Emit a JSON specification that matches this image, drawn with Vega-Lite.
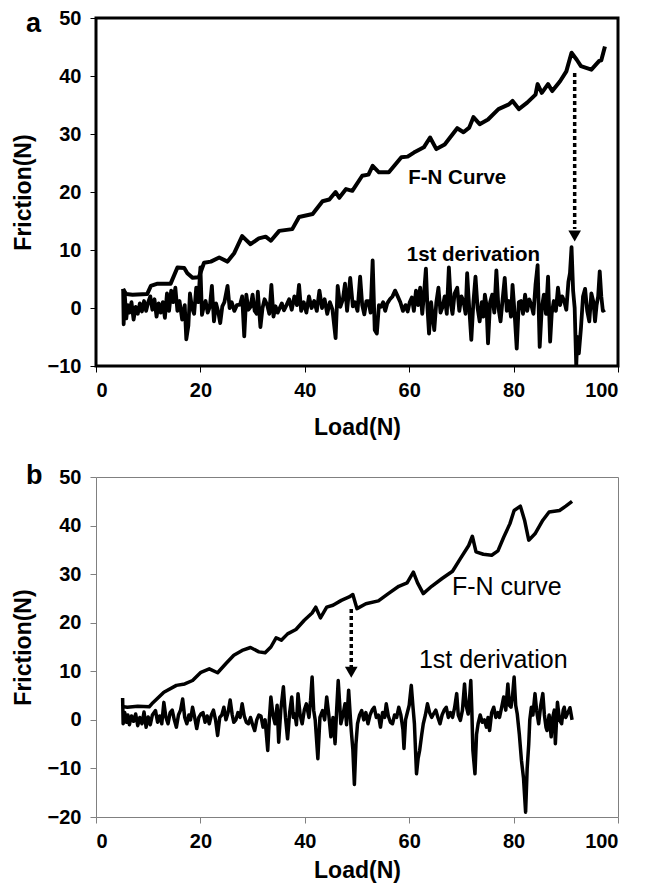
{
  "$schema": "https://vega.github.io/schema/vega-lite/v6.json",
  "background": "white",
  "padding": {"left": 10, "top": 6, "right": 5, "bottom": 5},
  "bounds": "flush",
  "spacing": 111,
  "config": {
    "font": "Liberation Sans",
    "axis": {
      "labelFont": "Liberation Sans", "labelFontSize": 20, "labelFontWeight": "bold", "labelColor": "#000",
      "titleFont": "Liberation Sans", "titleFontSize": 23, "titleFontWeight": "bold", "titleColor": "#000",
      "grid": false, "domain": false, "tickSize": 6, "tickColor": "#000", "tickWidth": 1
    },
    "axisX": {"labelPadding": 8, "titlePadding": 8},
    "axisY": {"labelPadding": 9, "titlePadding": 12},
    "title": {"font": "Liberation Sans", "fontSize": 27, "fontWeight": "bold", "color": "#000"}
  },
  "datasets": {
    "a_curve": [
      {"load": 5.2, "friction": 3.3}, {"load": 5.5, "friction": 2.8}, {"load": 5.8, "friction": 2.4}, {"load": 7.0, "friction": 2.3}, {"load": 9.8, "friction": 2.4},
      {"load": 10.5, "friction": 3.8}, {"load": 11.8, "friction": 4.2}, {"load": 14.3, "friction": 4.2}, {"load": 15.6, "friction": 7.0}, {"load": 16.9, "friction": 6.9},
      {"load": 17.5, "friction": 6.0}, {"load": 18.5, "friction": 5.2}, {"load": 19.7, "friction": 5.3}, {"load": 20.7, "friction": 7.8}, {"load": 22.0, "friction": 8.0},
      {"load": 23.6, "friction": 8.7}, {"load": 25.2, "friction": 8.0}, {"load": 26.5, "friction": 9.5}, {"load": 28.0, "friction": 12.4}, {"load": 29.6, "friction": 11.0},
      {"load": 31.2, "friction": 12.0}, {"load": 32.5, "friction": 12.3}, {"load": 33.5, "friction": 11.6}, {"load": 35.1, "friction": 13.3}, {"load": 37.6, "friction": 13.6},
      {"load": 38.9, "friction": 15.7}, {"load": 41.5, "friction": 16.2}, {"load": 43.4, "friction": 18.4}, {"load": 44.7, "friction": 18.7}, {"load": 45.9, "friction": 20.0},
      {"load": 46.6, "friction": 19.0}, {"load": 47.9, "friction": 20.5}, {"load": 49.1, "friction": 20.2}, {"load": 51.0, "friction": 22.8}, {"load": 52.2, "friction": 23.0},
      {"load": 53.0, "friction": 24.5}, {"load": 54.2, "friction": 23.4}, {"load": 56.1, "friction": 23.4}, {"load": 58.5, "friction": 26.0}, {"load": 59.7, "friction": 26.1},
      {"load": 60.9, "friction": 26.8}, {"load": 62.8, "friction": 27.7}, {"load": 64.0, "friction": 29.4}, {"load": 65.2, "friction": 27.4}, {"load": 66.8, "friction": 28.2},
      {"load": 69.2, "friction": 31.0}, {"load": 70.4, "friction": 30.3}, {"load": 71.5, "friction": 31.1}, {"load": 72.3, "friction": 32.9}, {"load": 73.5, "friction": 31.7},
      {"load": 75.1, "friction": 32.5}, {"load": 77.1, "friction": 34.3}, {"load": 79.1, "friction": 35.1}, {"load": 79.8, "friction": 35.7}, {"load": 81.0, "friction": 34.3},
      {"load": 82.6, "friction": 35.4}, {"load": 84.2, "friction": 36.8}, {"load": 84.6, "friction": 38.6}, {"load": 85.4, "friction": 37.1}, {"load": 86.6, "friction": 38.6},
      {"load": 87.4, "friction": 37.4}, {"load": 88.9, "friction": 39.1}, {"load": 90.1, "friction": 40.8}, {"load": 91.1, "friction": 44.0}, {"load": 92.1, "friction": 42.8},
      {"load": 92.9, "friction": 41.7}, {"load": 94.9, "friction": 41.1}, {"load": 96.4, "friction": 42.6}, {"load": 96.8, "friction": 42.7}, {"load": 97.5, "friction": 45.1}
    ],
    "a_deriv": [
      {"load": 5.2, "friction": 3.3}, {"load": 5.3, "friction": -2.8}, {"load": 5.5, "friction": 2.5}, {"load": 5.8, "friction": -1.8}, {"load": 6.1, "friction": 0.5},
      {"load": 6.4, "friction": -0.8}, {"load": 6.8, "friction": 1.0}, {"load": 7.2, "friction": -2.0}, {"load": 7.6, "friction": 0.2}, {"load": 8.0, "friction": -1.0},
      {"load": 8.4, "friction": 0.8}, {"load": 8.8, "friction": -0.6}, {"load": 9.2, "friction": 1.2}, {"load": 9.6, "friction": -0.5}, {"load": 10.0, "friction": 1.0},
      {"load": 10.4, "friction": 2.0}, {"load": 10.8, "friction": -0.3}, {"load": 11.2, "friction": 1.5}, {"load": 11.6, "friction": -1.5}, {"load": 12.0, "friction": 0.8},
      {"load": 12.4, "friction": -0.8}, {"load": 12.8, "friction": 1.0}, {"load": 13.2, "friction": -1.7}, {"load": 13.6, "friction": 2.5}, {"load": 14.0, "friction": -0.5},
      {"load": 14.4, "friction": 3.0}, {"load": 14.8, "friction": 1.0}, {"load": 15.2, "friction": 3.5}, {"load": 15.6, "friction": -0.5}, {"load": 16.0, "friction": 1.2},
      {"load": 16.5, "friction": -2.0}, {"load": 17.0, "friction": 0.5}, {"load": 17.3, "friction": -5.4}, {"load": 17.7, "friction": -3.0}, {"load": 18.0, "friction": 2.5},
      {"load": 18.4, "friction": 0.0}, {"load": 18.8, "friction": -1.0}, {"load": 19.2, "friction": 3.5}, {"load": 19.6, "friction": 1.0}, {"load": 20.0, "friction": 7.0},
      {"load": 20.3, "friction": -1.2}, {"load": 20.7, "friction": 0.5}, {"load": 21.0, "friction": 1.2}, {"load": 21.4, "friction": -0.8}, {"load": 21.8, "friction": 0.2},
      {"load": 22.2, "friction": 3.8}, {"load": 22.6, "friction": -2.3}, {"load": 23.0, "friction": 0.8}, {"load": 23.4, "friction": -0.6}, {"load": 23.8, "friction": -2.6},
      {"load": 24.2, "friction": 0.3}, {"load": 24.6, "friction": 1.0}, {"load": 25.2, "friction": 3.8}, {"load": 25.6, "friction": 0.0}, {"load": 26.0, "friction": 1.0},
      {"load": 26.5, "friction": -0.5}, {"load": 27.0, "friction": 0.5}, {"load": 27.6, "friction": 0.6}, {"load": 28.0, "friction": 2.0}, {"load": 28.4, "friction": -4.9},
      {"load": 28.8, "friction": 2.3}, {"load": 29.2, "friction": -0.3}, {"load": 29.6, "friction": 0.2}, {"load": 30.0, "friction": 2.3}, {"load": 30.4, "friction": -0.5},
      {"load": 30.8, "friction": -1.0}, {"load": 31.0, "friction": 2.8}, {"load": 31.5, "friction": -3.3}, {"load": 31.9, "friction": 0.0}, {"load": 32.3, "friction": 1.5},
      {"load": 32.8, "friction": 0.5}, {"load": 33.2, "friction": -1.0}, {"load": 33.6, "friction": 4.0}, {"load": 34.0, "friction": -1.5}, {"load": 34.4, "friction": 0.3},
      {"load": 34.8, "friction": -0.8}, {"load": 35.2, "friction": 0.0}, {"load": 35.6, "friction": 0.8}, {"load": 36.0, "friction": -0.4}, {"load": 36.5, "friction": 0.5},
      {"load": 37.0, "friction": 1.5}, {"load": 37.5, "friction": -0.3}, {"load": 38.0, "friction": 2.0}, {"load": 38.5, "friction": 0.5}, {"load": 38.9, "friction": 4.0},
      {"load": 39.3, "friction": -0.5}, {"load": 39.8, "friction": 1.0}, {"load": 40.3, "friction": -0.8}, {"load": 40.8, "friction": 2.0}, {"load": 41.3, "friction": 0.0},
      {"load": 41.8, "friction": 1.2}, {"load": 42.3, "friction": -0.5}, {"load": 42.8, "friction": 3.0}, {"load": 43.3, "friction": 0.0}, {"load": 43.8, "friction": 1.5},
      {"load": 44.3, "friction": -1.0}, {"load": 44.8, "friction": 1.0}, {"load": 45.3, "friction": -0.3}, {"load": 45.9, "friction": -5.2}, {"load": 46.3, "friction": 3.8},
      {"load": 46.8, "friction": 0.2}, {"load": 47.3, "friction": 1.5}, {"load": 47.7, "friction": 4.2}, {"load": 48.1, "friction": -0.5}, {"load": 48.7, "friction": 5.2},
      {"load": 49.2, "friction": 0.3}, {"load": 49.6, "friction": 1.0}, {"load": 50.1, "friction": -0.5}, {"load": 50.6, "friction": 5.4}, {"load": 51.0, "friction": 0.5},
      {"load": 51.4, "friction": -1.1}, {"load": 51.8, "friction": 1.2}, {"load": 52.2, "friction": 1.2}, {"load": 52.6, "friction": -0.8}, {"load": 53.0, "friction": 8.2},
      {"load": 53.4, "friction": -3.8}, {"load": 53.8, "friction": -4.4}, {"load": 54.2, "friction": 0.5}, {"load": 54.6, "friction": 0.2}, {"load": 55.0, "friction": 1.0},
      {"load": 55.4, "friction": -0.5}, {"load": 55.8, "friction": 0.8}, {"load": 56.3, "friction": 1.5}, {"load": 56.8, "friction": 2.0}, {"load": 57.3, "friction": 3.0},
      {"load": 57.8, "friction": 2.0}, {"load": 58.3, "friction": 1.0}, {"load": 58.8, "friction": -0.5}, {"load": 59.3, "friction": 0.5}, {"load": 59.7, "friction": -0.6},
      {"load": 60.1, "friction": 1.0}, {"load": 60.5, "friction": 1.8}, {"load": 60.9, "friction": -0.5}, {"load": 61.3, "friction": 3.0}, {"load": 61.7, "friction": 0.5},
      {"load": 62.1, "friction": 3.5}, {"load": 62.5, "friction": -1.0}, {"load": 62.8, "friction": 2.0}, {"load": 63.2, "friction": 6.8}, {"load": 63.5, "friction": 0.0},
      {"load": 63.8, "friction": -4.4}, {"load": 64.2, "friction": 1.0}, {"load": 64.5, "friction": -1.5}, {"load": 64.8, "friction": -3.8}, {"load": 65.2, "friction": 1.0},
      {"load": 65.6, "friction": 3.5}, {"load": 66.0, "friction": -0.8}, {"load": 66.4, "friction": 0.2}, {"load": 66.8, "friction": 2.0}, {"load": 67.2, "friction": -1.0},
      {"load": 67.6, "friction": 7.0}, {"load": 68.0, "friction": 0.5}, {"load": 68.3, "friction": -1.0}, {"load": 68.7, "friction": 2.5}, {"load": 69.2, "friction": 3.5},
      {"load": 69.6, "friction": -0.5}, {"load": 70.0, "friction": 2.0}, {"load": 70.4, "friction": 1.2}, {"load": 70.8, "friction": -1.0}, {"load": 71.1, "friction": 6.0},
      {"load": 71.5, "friction": 0.0}, {"load": 71.9, "friction": -5.5}, {"load": 72.3, "friction": 1.0}, {"load": 72.7, "friction": 5.4}, {"load": 73.1, "friction": 0.0},
      {"load": 73.5, "friction": -2.3}, {"load": 73.9, "friction": 1.0}, {"load": 74.2, "friction": -1.5}, {"load": 74.5, "friction": 2.3}, {"load": 74.8, "friction": 0.5},
      {"load": 75.1, "friction": -6.1}, {"load": 75.5, "friction": 1.0}, {"load": 75.9, "friction": 2.3}, {"load": 76.3, "friction": -0.8}, {"load": 76.7, "friction": 6.5},
      {"load": 77.1, "friction": 0.0}, {"load": 77.5, "friction": -2.3}, {"load": 77.9, "friction": 1.5}, {"load": 78.3, "friction": 5.2}, {"load": 78.7, "friction": -0.5},
      {"load": 79.1, "friction": 1.2}, {"load": 79.5, "friction": -1.5}, {"load": 79.8, "friction": 4.0}, {"load": 80.2, "friction": -1.0}, {"load": 80.6, "friction": -7.0},
      {"load": 81.0, "friction": 1.0}, {"load": 81.4, "friction": 1.2}, {"load": 81.8, "friction": -1.0}, {"load": 82.2, "friction": 2.3}, {"load": 82.6, "friction": -0.5},
      {"load": 83.0, "friction": 1.5}, {"load": 83.4, "friction": 0.5}, {"load": 83.8, "friction": -1.0}, {"load": 84.2, "friction": 4.0}, {"load": 84.6, "friction": 7.4},
      {"load": 85.0, "friction": -6.7}, {"load": 85.4, "friction": 0.0}, {"load": 85.8, "friction": 2.3}, {"load": 86.2, "friction": -1.0}, {"load": 86.6, "friction": 5.4},
      {"load": 87.0, "friction": -5.8}, {"load": 87.3, "friction": -1.0}, {"load": 87.7, "friction": 1.2}, {"load": 88.1, "friction": -0.5}, {"load": 88.5, "friction": 3.5},
      {"load": 88.9, "friction": 0.5}, {"load": 89.3, "friction": 2.0}, {"load": 89.7, "friction": 1.2}, {"load": 90.1, "friction": -0.3}, {"load": 90.5, "friction": 4.5},
      {"load": 90.8, "friction": 6.0}, {"load": 91.1, "friction": 10.5}, {"load": 91.4, "friction": 3.0}, {"load": 91.7, "friction": 0.0}, {"load": 92.0, "friction": -10.0},
      {"load": 92.2, "friction": -5.0}, {"load": 92.5, "friction": -7.8}, {"load": 92.9, "friction": -3.5}, {"load": 93.3, "friction": 2.0}, {"load": 93.7, "friction": 3.3},
      {"load": 94.1, "friction": -0.5}, {"load": 94.5, "friction": -2.3}, {"load": 94.9, "friction": 2.5}, {"load": 95.3, "friction": 1.0}, {"load": 95.6, "friction": -2.3},
      {"load": 95.9, "friction": 0.5}, {"load": 96.2, "friction": 2.0}, {"load": 96.5, "friction": 6.3}, {"load": 96.8, "friction": 2.0}, {"load": 97.1, "friction": -0.5},
      {"load": 97.5, "friction": -0.3}
    ],
    "a_arrow": [{"load": 91.7, "friction": 40.5, "friction2": 13.6}],
    "a_head": [{"load": 91.7, "friction": 12.4}],
    "a_text": [
      {"load": 69.2, "friction": 22.5, "label": "F-N Curve"},
      {"load": 72.3, "friction": 9.2, "label": "1st derivation"}
    ],
    "b_curve": [
      {"load": 5.3, "friction": 2.7}, {"load": 6.0, "friction": 2.6}, {"load": 8.0, "friction": 2.8}, {"load": 10.2, "friction": 2.7}, {"load": 10.7, "friction": 3.3},
      {"load": 13.0, "friction": 5.7}, {"load": 15.4, "friction": 7.1}, {"load": 17.0, "friction": 7.4}, {"load": 18.5, "friction": 8.1}, {"load": 20.1, "friction": 9.8},
      {"load": 21.7, "friction": 10.5}, {"load": 23.3, "friction": 9.7}, {"load": 24.9, "friction": 11.6}, {"load": 26.4, "friction": 13.3}, {"load": 28.0, "friction": 14.3},
      {"load": 29.6, "friction": 14.9}, {"load": 31.2, "friction": 14.0}, {"load": 32.4, "friction": 13.8}, {"load": 33.5, "friction": 15.0}, {"load": 34.5, "friction": 16.9},
      {"load": 35.5, "friction": 16.4}, {"load": 36.7, "friction": 17.7}, {"load": 38.3, "friction": 18.6}, {"load": 39.9, "friction": 20.5}, {"load": 41.4, "friction": 22.0},
      {"load": 42.1, "friction": 23.2}, {"load": 43.0, "friction": 21.0}, {"load": 44.2, "friction": 23.2}, {"load": 45.4, "friction": 23.6}, {"load": 47.0, "friction": 24.6},
      {"load": 48.5, "friction": 25.3}, {"load": 49.2, "friction": 25.8}, {"load": 50.0, "friction": 22.9}, {"load": 51.7, "friction": 23.9}, {"load": 54.1, "friction": 24.5},
      {"load": 56.0, "friction": 26.0}, {"load": 58.0, "friction": 27.5}, {"load": 59.6, "friction": 28.2}, {"load": 60.8, "friction": 30.4}, {"load": 61.6, "friction": 28.2},
      {"load": 62.7, "friction": 26.0}, {"load": 64.3, "friction": 27.5}, {"load": 66.3, "friction": 29.1}, {"load": 68.3, "friction": 30.6}, {"load": 69.8, "friction": 33.2},
      {"load": 71.4, "friction": 35.9}, {"load": 72.1, "friction": 37.8}, {"load": 72.8, "friction": 34.6}, {"load": 74.2, "friction": 34.1}, {"load": 75.8, "friction": 33.9},
      {"load": 77.0, "friction": 34.8}, {"load": 78.1, "friction": 37.6}, {"load": 79.3, "friction": 40.4}, {"load": 80.1, "friction": 43.1}, {"load": 81.3, "friction": 44.0},
      {"load": 82.1, "friction": 41.1}, {"load": 82.9, "friction": 37.0}, {"load": 84.1, "friction": 38.3}, {"load": 85.6, "friction": 41.1}, {"load": 86.8, "friction": 42.8},
      {"load": 88.8, "friction": 43.1}, {"load": 90.0, "friction": 44.0}, {"load": 91.2, "friction": 45.0}
    ],
    "b_deriv": [
      {"load": 5.1, "friction": 4.5}, {"load": 5.2, "friction": -0.8}, {"load": 5.5, "friction": 1.5}, {"load": 5.8, "friction": -0.5}, {"load": 6.1, "friction": 1.0},
      {"load": 6.4, "friction": -1.0}, {"load": 6.8, "friction": 0.8}, {"load": 7.2, "friction": -0.3}, {"load": 7.6, "friction": 1.2}, {"load": 8.0, "friction": -1.2},
      {"load": 8.4, "friction": 0.5}, {"load": 8.8, "friction": -0.8}, {"load": 9.2, "friction": 1.6}, {"load": 9.6, "friction": -1.5}, {"load": 10.0, "friction": 0.6},
      {"load": 10.4, "friction": -1.0}, {"load": 10.8, "friction": 1.0}, {"load": 11.4, "friction": 1.9}, {"load": 11.8, "friction": -0.5}, {"load": 12.2, "friction": 0.8},
      {"load": 12.6, "friction": -0.8}, {"load": 13.0, "friction": 3.6}, {"load": 13.4, "friction": 0.5}, {"load": 13.8, "friction": -0.8}, {"load": 14.2, "friction": 1.5},
      {"load": 14.6, "friction": 2.0}, {"load": 15.0, "friction": 0.0}, {"load": 15.4, "friction": -1.5}, {"load": 15.8, "friction": 1.0}, {"load": 16.2, "friction": 2.0},
      {"load": 16.6, "friction": 4.3}, {"load": 17.0, "friction": 0.5}, {"load": 17.4, "friction": -0.8}, {"load": 17.8, "friction": 1.0}, {"load": 18.1, "friction": 0.0},
      {"load": 18.5, "friction": 2.6}, {"load": 18.9, "friction": 0.5}, {"load": 19.3, "friction": -1.8}, {"load": 19.7, "friction": 0.5}, {"load": 20.1, "friction": 1.2},
      {"load": 20.5, "friction": 1.5}, {"load": 20.9, "friction": -0.5}, {"load": 21.3, "friction": 0.8}, {"load": 21.7, "friction": -0.8}, {"load": 22.1, "friction": 1.0},
      {"load": 22.5, "friction": 2.0}, {"load": 22.9, "friction": 0.0}, {"load": 23.3, "friction": -3.2}, {"load": 23.7, "friction": 0.5}, {"load": 24.1, "friction": 1.0},
      {"load": 24.5, "friction": 2.6}, {"load": 24.9, "friction": 0.0}, {"load": 25.3, "friction": 1.5}, {"load": 25.7, "friction": 4.1}, {"load": 26.1, "friction": 1.0},
      {"load": 26.4, "friction": -0.5}, {"load": 26.8, "friction": 0.0}, {"load": 27.2, "friction": 1.5}, {"load": 27.6, "friction": 0.5}, {"load": 28.0, "friction": 3.3},
      {"load": 28.4, "friction": 0.8}, {"load": 28.8, "friction": -0.5}, {"load": 29.2, "friction": -0.8}, {"load": 29.6, "friction": 0.5}, {"load": 30.0, "friction": -1.0},
      {"load": 30.4, "friction": -2.2}, {"load": 30.8, "friction": 0.0}, {"load": 31.2, "friction": 1.0}, {"load": 31.6, "friction": 0.8}, {"load": 32.0, "friction": -1.5},
      {"load": 32.4, "friction": 0.0}, {"load": 32.9, "friction": -6.3}, {"load": 33.2, "friction": 0.0}, {"load": 33.5, "friction": 4.7}, {"load": 33.9, "friction": 1.0},
      {"load": 34.3, "friction": -0.8}, {"load": 34.7, "friction": 3.0}, {"load": 35.0, "friction": -4.6}, {"load": 35.4, "friction": 2.0}, {"load": 35.9, "friction": 6.8},
      {"load": 36.3, "friction": 0.5}, {"load": 36.7, "friction": -3.9}, {"load": 37.1, "friction": 1.5}, {"load": 37.5, "friction": 4.7}, {"load": 37.8, "friction": 0.5},
      {"load": 38.1, "friction": 1.2}, {"load": 38.4, "friction": -1.0}, {"load": 38.7, "friction": 5.4}, {"load": 39.1, "friction": 1.0}, {"load": 39.5, "friction": -0.8},
      {"load": 39.9, "friction": 2.0}, {"load": 40.3, "friction": 3.3}, {"load": 40.8, "friction": 0.5}, {"load": 41.1, "friction": 4.0}, {"load": 41.4, "friction": 8.8},
      {"load": 41.7, "friction": 2.0}, {"load": 42.0, "friction": -0.1}, {"load": 42.5, "friction": -8.0}, {"load": 42.9, "friction": 0.5}, {"load": 43.4, "friction": 1.9},
      {"load": 43.8, "friction": 0.0}, {"load": 44.2, "friction": 4.7}, {"load": 44.6, "friction": 1.0}, {"load": 45.0, "friction": -3.5}, {"load": 45.4, "friction": 0.5},
      {"load": 45.8, "friction": -4.9}, {"load": 46.1, "friction": 2.0}, {"load": 46.4, "friction": 8.1}, {"load": 46.7, "friction": 3.0}, {"load": 46.9, "friction": -0.8},
      {"load": 47.3, "friction": 1.0}, {"load": 47.7, "friction": 3.3}, {"load": 48.0, "friction": -1.0}, {"load": 48.4, "friction": 6.1}, {"load": 48.7, "friction": 1.0},
      {"load": 48.9, "friction": -2.2}, {"load": 49.2, "friction": -6.0}, {"load": 49.5, "friction": -13.3}, {"load": 49.8, "friction": -5.0}, {"load": 50.1, "friction": -0.8},
      {"load": 50.5, "friction": 1.0}, {"load": 50.9, "friction": 1.9}, {"load": 51.3, "friction": 0.0}, {"load": 51.7, "friction": 1.5}, {"load": 52.1, "friction": -0.8},
      {"load": 52.5, "friction": 1.0}, {"load": 52.9, "friction": 2.0}, {"load": 53.3, "friction": 2.6}, {"load": 53.7, "friction": 0.5}, {"load": 54.1, "friction": 1.0},
      {"load": 54.5, "friction": -1.5}, {"load": 54.9, "friction": 1.5}, {"load": 55.3, "friction": 0.5}, {"load": 55.6, "friction": 3.3}, {"load": 56.0, "friction": 0.8},
      {"load": 56.4, "friction": -0.5}, {"load": 56.8, "friction": -0.8}, {"load": 57.2, "friction": 1.0}, {"load": 57.6, "friction": 0.5}, {"load": 58.0, "friction": 2.6},
      {"load": 58.4, "friction": 1.0}, {"load": 58.8, "friction": -2.0}, {"load": 59.0, "friction": -5.9}, {"load": 59.3, "friction": 0.0}, {"load": 59.6, "friction": 1.3},
      {"load": 60.0, "friction": 3.0}, {"load": 60.4, "friction": 7.1}, {"load": 60.7, "friction": 3.0}, {"load": 61.0, "friction": -0.8}, {"load": 61.2, "friction": -6.0},
      {"load": 61.4, "friction": -11.1}, {"load": 61.7, "friction": -8.0}, {"load": 62.0, "friction": -6.3}, {"load": 62.4, "friction": -3.0}, {"load": 62.7, "friction": -0.8},
      {"load": 63.1, "friction": 1.0}, {"load": 63.5, "friction": 3.3}, {"load": 63.9, "friction": 1.5}, {"load": 64.3, "friction": 0.5}, {"load": 64.7, "friction": 1.3},
      {"load": 65.1, "friction": 2.0}, {"load": 65.5, "friction": 0.5}, {"load": 65.9, "friction": -0.8}, {"load": 66.3, "friction": 1.0}, {"load": 66.7, "friction": 2.0},
      {"load": 67.1, "friction": 2.6}, {"load": 67.5, "friction": 0.5}, {"load": 67.9, "friction": 1.5}, {"load": 68.3, "friction": 0.5}, {"load": 68.7, "friction": 2.5},
      {"load": 69.1, "friction": 5.4}, {"load": 69.4, "friction": 1.0}, {"load": 69.8, "friction": -0.1}, {"load": 70.2, "friction": 2.0}, {"load": 70.6, "friction": 7.4},
      {"load": 70.9, "friction": 3.0}, {"load": 71.3, "friction": 1.2}, {"load": 71.6, "friction": 5.0}, {"load": 71.8, "friction": 8.1}, {"load": 72.0, "friction": 2.0},
      {"load": 72.2, "friction": -6.3}, {"load": 72.6, "friction": -11.1}, {"load": 72.9, "friction": -3.0}, {"load": 73.2, "friction": -0.8}, {"load": 73.6, "friction": 1.0},
      {"load": 74.0, "friction": -0.5}, {"load": 74.4, "friction": 0.0}, {"load": 74.8, "friction": -1.5}, {"load": 75.1, "friction": 0.5}, {"load": 75.4, "friction": -2.2},
      {"load": 75.8, "friction": 1.5}, {"load": 76.2, "friction": 2.6}, {"load": 76.6, "friction": 0.5}, {"load": 77.0, "friction": 1.5}, {"load": 77.3, "friction": 0.5},
      {"load": 77.7, "friction": 2.5}, {"load": 78.1, "friction": 4.7}, {"load": 78.5, "friction": 2.0}, {"load": 78.9, "friction": 7.4}, {"load": 79.2, "friction": 3.0},
      {"load": 79.5, "friction": 2.6}, {"load": 79.8, "friction": 5.0}, {"load": 80.1, "friction": 8.8}, {"load": 80.4, "friction": 3.0}, {"load": 80.7, "friction": 1.2},
      {"load": 81.1, "friction": -3.0}, {"load": 81.5, "friction": -8.3}, {"load": 81.9, "friction": -12.0}, {"load": 82.3, "friction": -19.0}, {"load": 82.6, "friction": -10.0},
      {"load": 82.9, "friction": -5.0}, {"load": 83.1, "friction": 0.0}, {"load": 83.4, "friction": 2.6}, {"load": 83.7, "friction": 1.0}, {"load": 84.1, "friction": 5.4},
      {"load": 84.4, "friction": 2.0}, {"load": 84.8, "friction": -0.8}, {"load": 85.2, "friction": 3.0}, {"load": 85.6, "friction": 5.4}, {"load": 85.9, "friction": 1.0},
      {"load": 86.2, "friction": -1.5}, {"load": 86.4, "friction": -2.2}, {"load": 86.8, "friction": 1.0}, {"load": 87.2, "friction": -3.5}, {"load": 87.5, "friction": 0.5},
      {"load": 87.8, "friction": 2.0}, {"load": 88.0, "friction": -4.9}, {"load": 88.4, "friction": 3.6}, {"load": 88.8, "friction": 0.0}, {"load": 89.2, "friction": -0.8},
      {"load": 89.5, "friction": 2.0}, {"load": 89.7, "friction": 2.6}, {"load": 90.0, "friction": 0.5}, {"load": 90.4, "friction": 1.5}, {"load": 90.8, "friction": 2.5},
      {"load": 91.2, "friction": 0.0}
    ],
    "b_arrow": [{"load": 48.9, "friction": 22.8, "friction2": 10.9}],
    "b_head": [{"load": 48.9, "friction": 9.8}],
    "b_text": [
      {"load": 78.7, "friction": 27.4, "label": "F-N curve"},
      {"load": 76.1, "friction": 12.3, "label": "1st derivation"}
    ]
  },
  "vconcat": [
    {
      "width": 522,
      "height": 348,
      "view": {"stroke": "#000", "strokeWidth": 3},
      "title": {"text": "a", "anchor": "start", "frame": "bounds", "offset": -30, "dx": 14},
      "encoding": {
        "x": {"field": "load", "type": "quantitative", "title": "Load(N)",
              "scale": {"domain": [0, 100], "nice": false},
              "axis": {"values": [0, 20, 40, 60, 80, 100], "titlePadding": 16}},
        "y": {"field": "friction", "type": "quantitative", "title": "Friction(N)",
              "scale": {"domain": [-10, 50], "nice": false},
              "axis": {"values": [-10, 0, 10, 20, 30, 40, 50]}}
      },
      "layer": [
        {"data": {"name": "a_deriv"}, "mark": {"type": "line", "color": "#000", "strokeWidth": 3.8, "strokeJoin": "round", "clip": true}},
        {"data": {"name": "a_curve"}, "mark": {"type": "line", "color": "#000", "strokeWidth": 4, "strokeJoin": "round", "clip": true}},
        {"data": {"name": "a_arrow"}, "mark": {"type": "rule", "color": "#000", "strokeWidth": 3.5, "strokeDash": [4, 3]},
         "encoding": {"y2": {"field": "friction2"}}},
        {"data": {"name": "a_head"}, "mark": {"type": "point", "shape": "triangle-down", "filled": true, "color": "#000", "size": 160, "opacity": 1}},
        {"data": {"name": "a_text"}, "mark": {"type": "text", "font": "Liberation Sans", "fontSize": 20.5, "fontWeight": "bold", "color": "#000", "align": "center", "baseline": "middle"},
         "encoding": {"text": {"field": "label"}}}
      ]
    },
    {
      "width": 522,
      "height": 340,
      "view": {"stroke": "#808080", "strokeWidth": 1},
      "title": {"text": "b", "anchor": "start", "frame": "bounds", "offset": -23, "dx": 14},
      "encoding": {
        "x": {"field": "load", "type": "quantitative", "title": "Load(N)",
              "scale": {"domain": [0, 100], "nice": false},
              "axis": {"values": [0, 20, 40, 60, 80, 100], "tickColor": "#808080"}},
        "y": {"field": "friction", "type": "quantitative", "title": "Friction(N)",
              "scale": {"domain": [-20, 50], "nice": false},
              "axis": {"values": [-20, -10, 0, 10, 20, 30, 40, 50], "tickColor": "#808080"}}
      },
      "layer": [
        {"data": {"name": "b_deriv"}, "mark": {"type": "line", "color": "#000", "strokeWidth": 3.5, "strokeJoin": "round"}},
        {"data": {"name": "b_curve"}, "mark": {"type": "line", "color": "#000", "strokeWidth": 3.5, "strokeJoin": "round"}},
        {"data": {"name": "b_arrow"}, "mark": {"type": "rule", "color": "#000", "strokeWidth": 3.5, "strokeDash": [4, 3]},
         "encoding": {"y2": {"field": "friction2"}}},
        {"data": {"name": "b_head"}, "mark": {"type": "point", "shape": "triangle-down", "filled": true, "color": "#000", "size": 160, "opacity": 1}},
        {"data": {"name": "b_text"}, "mark": {"type": "text", "font": "Liberation Sans", "fontSize": 25, "fontWeight": "normal", "color": "#000", "align": "center", "baseline": "middle"},
         "encoding": {"text": {"field": "label"}}}
      ]
    }
  ]
}
